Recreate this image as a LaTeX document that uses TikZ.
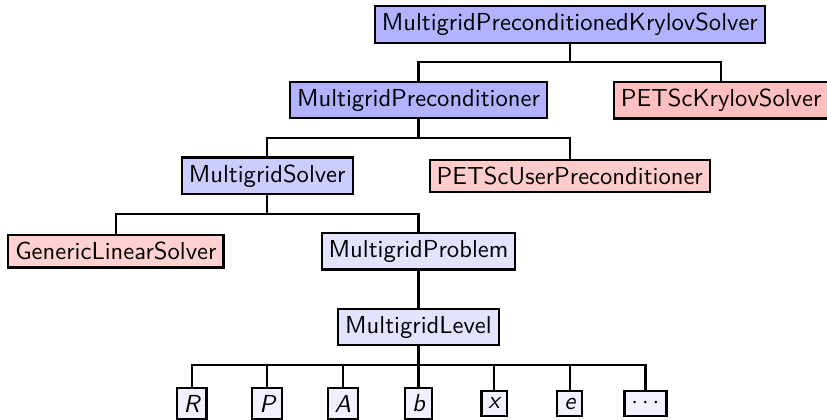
\documentclass[tikz,border=0pt]{standalone}
\usepackage{fontspec}
\setsansfont{lmsans10-regular.otf}[ItalicFont=lmsans10-oblique.otf]
\begin{document}
\begin{tikzpicture}[x=0.5pt,y=-0.5pt,
  box/.style={draw=black, line width=1.05pt, inner sep=3.5pt,
    font=\sffamily\fontsize{12.3}{14}\selectfont},
  conn/.style={draw=black, line width=1.05pt},
  leaf/.style={box, fill=blue!6, font=\sffamily\itshape\fontsize{12.3}{14}\selectfont}]
\useasboundingbox (0,0) rectangle (827,419);
% levels: y = 24.5 + n*75.65 ; x = 418.5 + k*75.65
\node[box, fill=blue!30] (mpks) at (418.5+2*75.65, 24.5) {MultigridPreconditionedKrylovSolver};
\node[box, fill=blue!30] (mp) at (418.5, 100.15) {MultigridPreconditioner};
\node[box, fill=red!25] (pks) at (418.5+4*75.65, 100.15) {PETScKrylovSolver};
\node[box, fill=blue!20] (ms) at (418.5-2*75.65, 175.8) {MultigridSolver};
\node[box, fill=red!20] (pup) at (418.5+2*75.65, 175.8) {PETScUserPreconditioner};
\node[box, fill=red!18] (gls) at (418.5-4*75.65, 251.45) {GenericLinearSolver};
\node[box, fill=blue!11] (mprob) at (418.5, 251.45) {MultigridProblem};
\node[box, fill=blue!11] (ml) at (418.5, 327.1) {MultigridLevel};
\node[leaf] (lR) at (418.5-3*75.65, 403.5) {R};
\node[leaf] (lP) at (418.5-2*75.65, 403.5) {P};
\node[leaf] (lA) at (418.5-1*75.65, 403.5) {A};
\node[leaf] (lb) at (418.5, 403.5) {b};
\node[leaf] (lx) at (418.5+1*75.65, 403.5) {x};
\node[leaf] (le) at (418.5+2*75.65, 403.5) {e};
\node[leaf, font=\sffamily\fontsize{12.3}{14}\selectfont] (ld) at (418.5+3*75.65, 403.5) {$\cdots$};
% fork bars
\coordinate (b0) at (0, 62.3);
\coordinate (b1) at (0, 138);
\coordinate (b2) at (0, 213.6);
\coordinate (b3) at (0, 289.3);
\coordinate (b4) at (0, 365);
\draw[conn] (mpks.south) -- (mpks.south |- b0) -| (mp.north);
\draw[conn] (mpks.south) -- (mpks.south |- b0) -| (pks.north);
\draw[conn] (mp.south) -- (mp.south |- b1) -| (ms.north);
\draw[conn] (mp.south) -- (mp.south |- b1) -| (pup.north);
\draw[conn] (ms.south) -- (ms.south |- b2) -| (gls.north);
\draw[conn] (ms.south) -- (ms.south |- b2) -| (mprob.north);
\draw[conn] (mprob.south) -- (ml.north);
\foreach \c in {lR,lP,lA,lb,lx,le,ld}
  \draw[conn] (ml.south) -- (ml.south |- b4) -| (\c.north);
\end{tikzpicture}
\end{document}
